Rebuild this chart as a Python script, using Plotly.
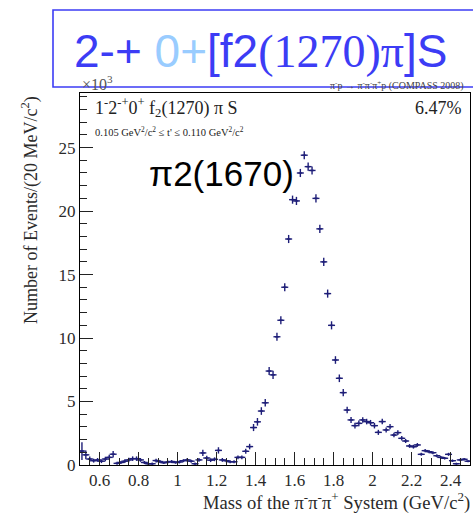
import plotly.graph_objects as go

# 3-pion invariant mass, 20 MeV bins (GeV/c^2)
mass = [0.51, 0.53, 0.55, 0.57, 0.59, 0.61, 0.63, 0.65, 0.67, 0.69,
        0.71, 0.73, 0.75, 0.77, 0.79, 0.81, 0.83, 0.85, 0.87, 0.89,
        0.91, 0.93, 0.95, 0.97, 0.99, 1.01, 1.03, 1.05, 1.07, 1.09,
        1.11, 1.13, 1.15, 1.17, 1.19, 1.21, 1.23, 1.25, 1.27, 1.29,
        1.31, 1.33, 1.35, 1.37, 1.39, 1.41, 1.43, 1.45, 1.47, 1.49,
        1.51, 1.53, 1.55, 1.57, 1.59, 1.61, 1.63, 1.65, 1.67, 1.69,
        1.71, 1.73, 1.75, 1.77, 1.79, 1.81, 1.83, 1.85, 1.87, 1.89,
        1.91, 1.93, 1.95, 1.97, 1.99, 2.01, 2.03, 2.05, 2.07, 2.09,
        2.11, 2.13, 2.15, 2.17, 2.19, 2.21, 2.23, 2.25, 2.27, 2.29,
        2.31, 2.33, 2.35, 2.37, 2.39, 2.41, 2.43, 2.45, 2.47, 2.49]

# events per bin, in units of 10^3
events = [1.10, 0.80, 0.47, 0.34, 0.40, 0.30, 0.47, 0.60, 0.85, 0.13,
          0.20, 0.30, 0.40, 0.50, 0.50, 0.40, 0.20, 0.10, 0.10, 0.35,
          0.27, 0.18, 0.24, 0.27, 0.20, 0.24, 0.34, 0.40, 0.30, 0.10,
          0.40, 0.95, 0.55, 0.38, 0.45, 1.15, 0.40, 0.34, 0.26, 0.26,
          0.60, 0.60, 1.08, 1.45, 2.95, 3.40, 4.25, 4.90, 7.40, 7.10,
          10.1, 11.4, 14.0, 17.8, 20.9, 20.8, 23.0, 24.4, 23.5, 23.2,
          21.0, 18.6, 16.0, 13.5, 11.0, 8.27, 6.83, 5.70, 4.33, 3.55,
          3.10, 3.28, 3.55, 3.42, 3.33, 3.10, 2.57, 3.42, 2.76, 3.02,
          2.36, 2.55, 2.10, 1.89, 1.50, 1.44, 1.58, 0.84, 1.13, 1.05,
          0.97, 0.73, 0.60, 0.53, 0.84, 0.34, 0.10, 0.40, 0.45, 0.30]

# statistical uncertainty per bin, in units of 10^3
errors = [0.70, 0.35, 0.20, 0.15, 0.15, 0.15, 0.18, 0.20, 0.25, 0.12,
          0.12, 0.15, 0.18, 0.18, 0.18, 0.15, 0.12, 0.10, 0.10, 0.15,
          0.12, 0.10, 0.12, 0.12, 0.10, 0.12, 0.12, 0.15, 0.12, 0.10,
          0.15, 0.25, 0.18, 0.15, 0.15, 0.25, 0.15, 0.12, 0.12, 0.12,
          0.15, 0.15, 0.20, 0.22, 0.28, 0.30, 0.30, 0.30, 0.32, 0.32,
          0.32, 0.32, 0.32, 0.32, 0.32, 0.32, 0.32, 0.32, 0.32, 0.32,
          0.32, 0.32, 0.32, 0.32, 0.32, 0.30, 0.30, 0.28, 0.26, 0.24,
          0.22, 0.22, 0.22, 0.22, 0.22, 0.22, 0.20, 0.22, 0.20, 0.20,
          0.18, 0.18, 0.18, 0.16, 0.15, 0.15, 0.15, 0.12, 0.13, 0.13,
          0.12, 0.11, 0.10, 0.10, 0.12, 0.10, 0.08, 0.10, 0.10, 0.08]

half_bin = 0.01
x_ticks = [0.6, 0.8, 1.0, 1.2, 1.4, 1.6, 1.8, 2.0, 2.2, 2.4]
x_tick_text = ["0.6", "0.8", "1", "1.2", "1.4", "1.6", "1.8", "2", "2.2", "2.4"]
y_ticks = [0, 5, 10, 15, 20, 25]

W, H = 473, 514
L, R, T, B = 80, 470, 93, 465  # plot frame in pixels

SERIF = "Liberation Serif, Times New Roman, serif"
SANS = "Liberation Sans, Arial, sans-serif"
DATA_COLOR = "#1e1e78"
BLUE = "#3c3cf5"


def px(x):
    return (x - L) / (R - L)


def py(y):
    return (B - y) / (B - T)


fig = go.Figure()
fig.add_trace(go.Scatter(
    x=mass, y=events, mode="markers",
    marker=dict(symbol="line-ew", size=5, line=dict(width=1.4, color=DATA_COLOR), color=DATA_COLOR),
    error_x=dict(type="constant", value=half_bin, width=0, thickness=1.4, color=DATA_COLOR),
    error_y=dict(type="data", array=errors, width=0, thickness=1.4, color=DATA_COLOR),
    showlegend=False, cliponaxis=True,
))

axis_common = dict(
    showline=True, linecolor="black", linewidth=1, mirror=True,
    ticks="inside", ticklen=13, tickwidth=1, tickcolor="#222",
    showgrid=False, zeroline=False,
    tickfont=dict(family=SERIF, size=17, color="#2a2a2a"),
)

fig.update_xaxes(range=[0.5, 2.5], tickvals=x_ticks, ticktext=x_tick_text,
                 minor=dict(dtick=0.05, tick0=0.5, ticks="inside", ticklen=7, tickcolor="#222", showgrid=False),
                 **axis_common)
fig.update_yaxes(range=[0, 29.3], tickvals=y_ticks,
                 minor=dict(dtick=1, tick0=0, ticks="inside", ticklen=7, tickcolor="#222", showgrid=False),
                 **axis_common)

ann = []
# headline inside a blue box
ann.append(dict(
    x=px(72), y=py(51), xanchor="left", yanchor="middle",
    text=("2-+ <span style='color:#99ccff'>0+</span>[f2"
          "<span style='font-family:Liberation Serif'>(1270)π</span>]S"),
    font=dict(family=SANS, size=46, color=BLUE), showarrow=False))
ann.append(dict(
    x=px(80), y=py(83), xanchor="left", yanchor="middle",
    text="×10<sup>3</sup>", font=dict(family=SERIF, size=16, color="#555"), showarrow=False))
ann.append(dict(
    x=px(466), y=py(85), xanchor="right", yanchor="middle",
    text="π<sup>-</sup>p → π<sup>-</sup>π<sup>-</sup>π<sup>+</sup>p (COMPASS 2008)",
    font=dict(family=SERIF, size=10, color="#444"), showarrow=False))
ann.append(dict(
    x=px(93), y=py(108), xanchor="left", yanchor="middle",
    text="1<sup>-</sup>2<sup>-+</sup>0<sup>+</sup> f<sub>2</sub>(1270) π S",
    font=dict(family=SERIF, size=18, color="#222"), showarrow=False))
ann.append(dict(
    x=px(464), y=py(108), xanchor="right", yanchor="middle",
    text="6.47%", font=dict(family=SERIF, size=18, color="#222"), showarrow=False))
ann.append(dict(
    x=px(93), y=py(131), xanchor="left", yanchor="middle",
    text="0.105 GeV<sup>2</sup>/c<sup>2</sup> ≤ t' ≤ 0.110 GeV<sup>2</sup>/c<sup>2</sup>",
    font=dict(family=SERIF, size=10.5, color="#222"), showarrow=False))
ann.append(dict(
    x=px(147), y=py(173), xanchor="left", yanchor="middle",
    text="π2(1670)", font=dict(family=SANS, size=35, color="black"), showarrow=False))
ann.append(dict(
    x=px(30), y=py(210), xanchor="center", yanchor="middle", textangle=-90,
    text="Number of Events/(20 MeV/c<sup>2</sup>)",
    font=dict(family=SERIF, size=18, color="#2a2a2a"), showarrow=False))
ann.append(dict(
    x=px(472), y=py(502), xanchor="right", yanchor="middle",
    text="Mass of the π<sup>-</sup>π<sup>-</sup>π<sup>+</sup> System (GeV/c<sup>2</sup>)",
    font=dict(family=SERIF, size=18.6, color="#2a2a2a"), showarrow=False))

for a in ann:
    a["xref"] = "paper"
    a["yref"] = "paper"

fig.update_layout(
    width=W, height=H,
    margin=dict(l=L, r=W - R, t=T, b=H - B, pad=0),
    paper_bgcolor="white", plot_bgcolor="white",
    annotations=ann,
    shapes=[dict(type="rect", xref="paper", yref="paper",
                 x0=px(53), x1=px(485), y0=py(87), y1=py(10),
                 line=dict(color=BLUE, width=1.6), fillcolor="rgba(0,0,0,0)", layer="above")],
)

fig.write_html("out.html")
